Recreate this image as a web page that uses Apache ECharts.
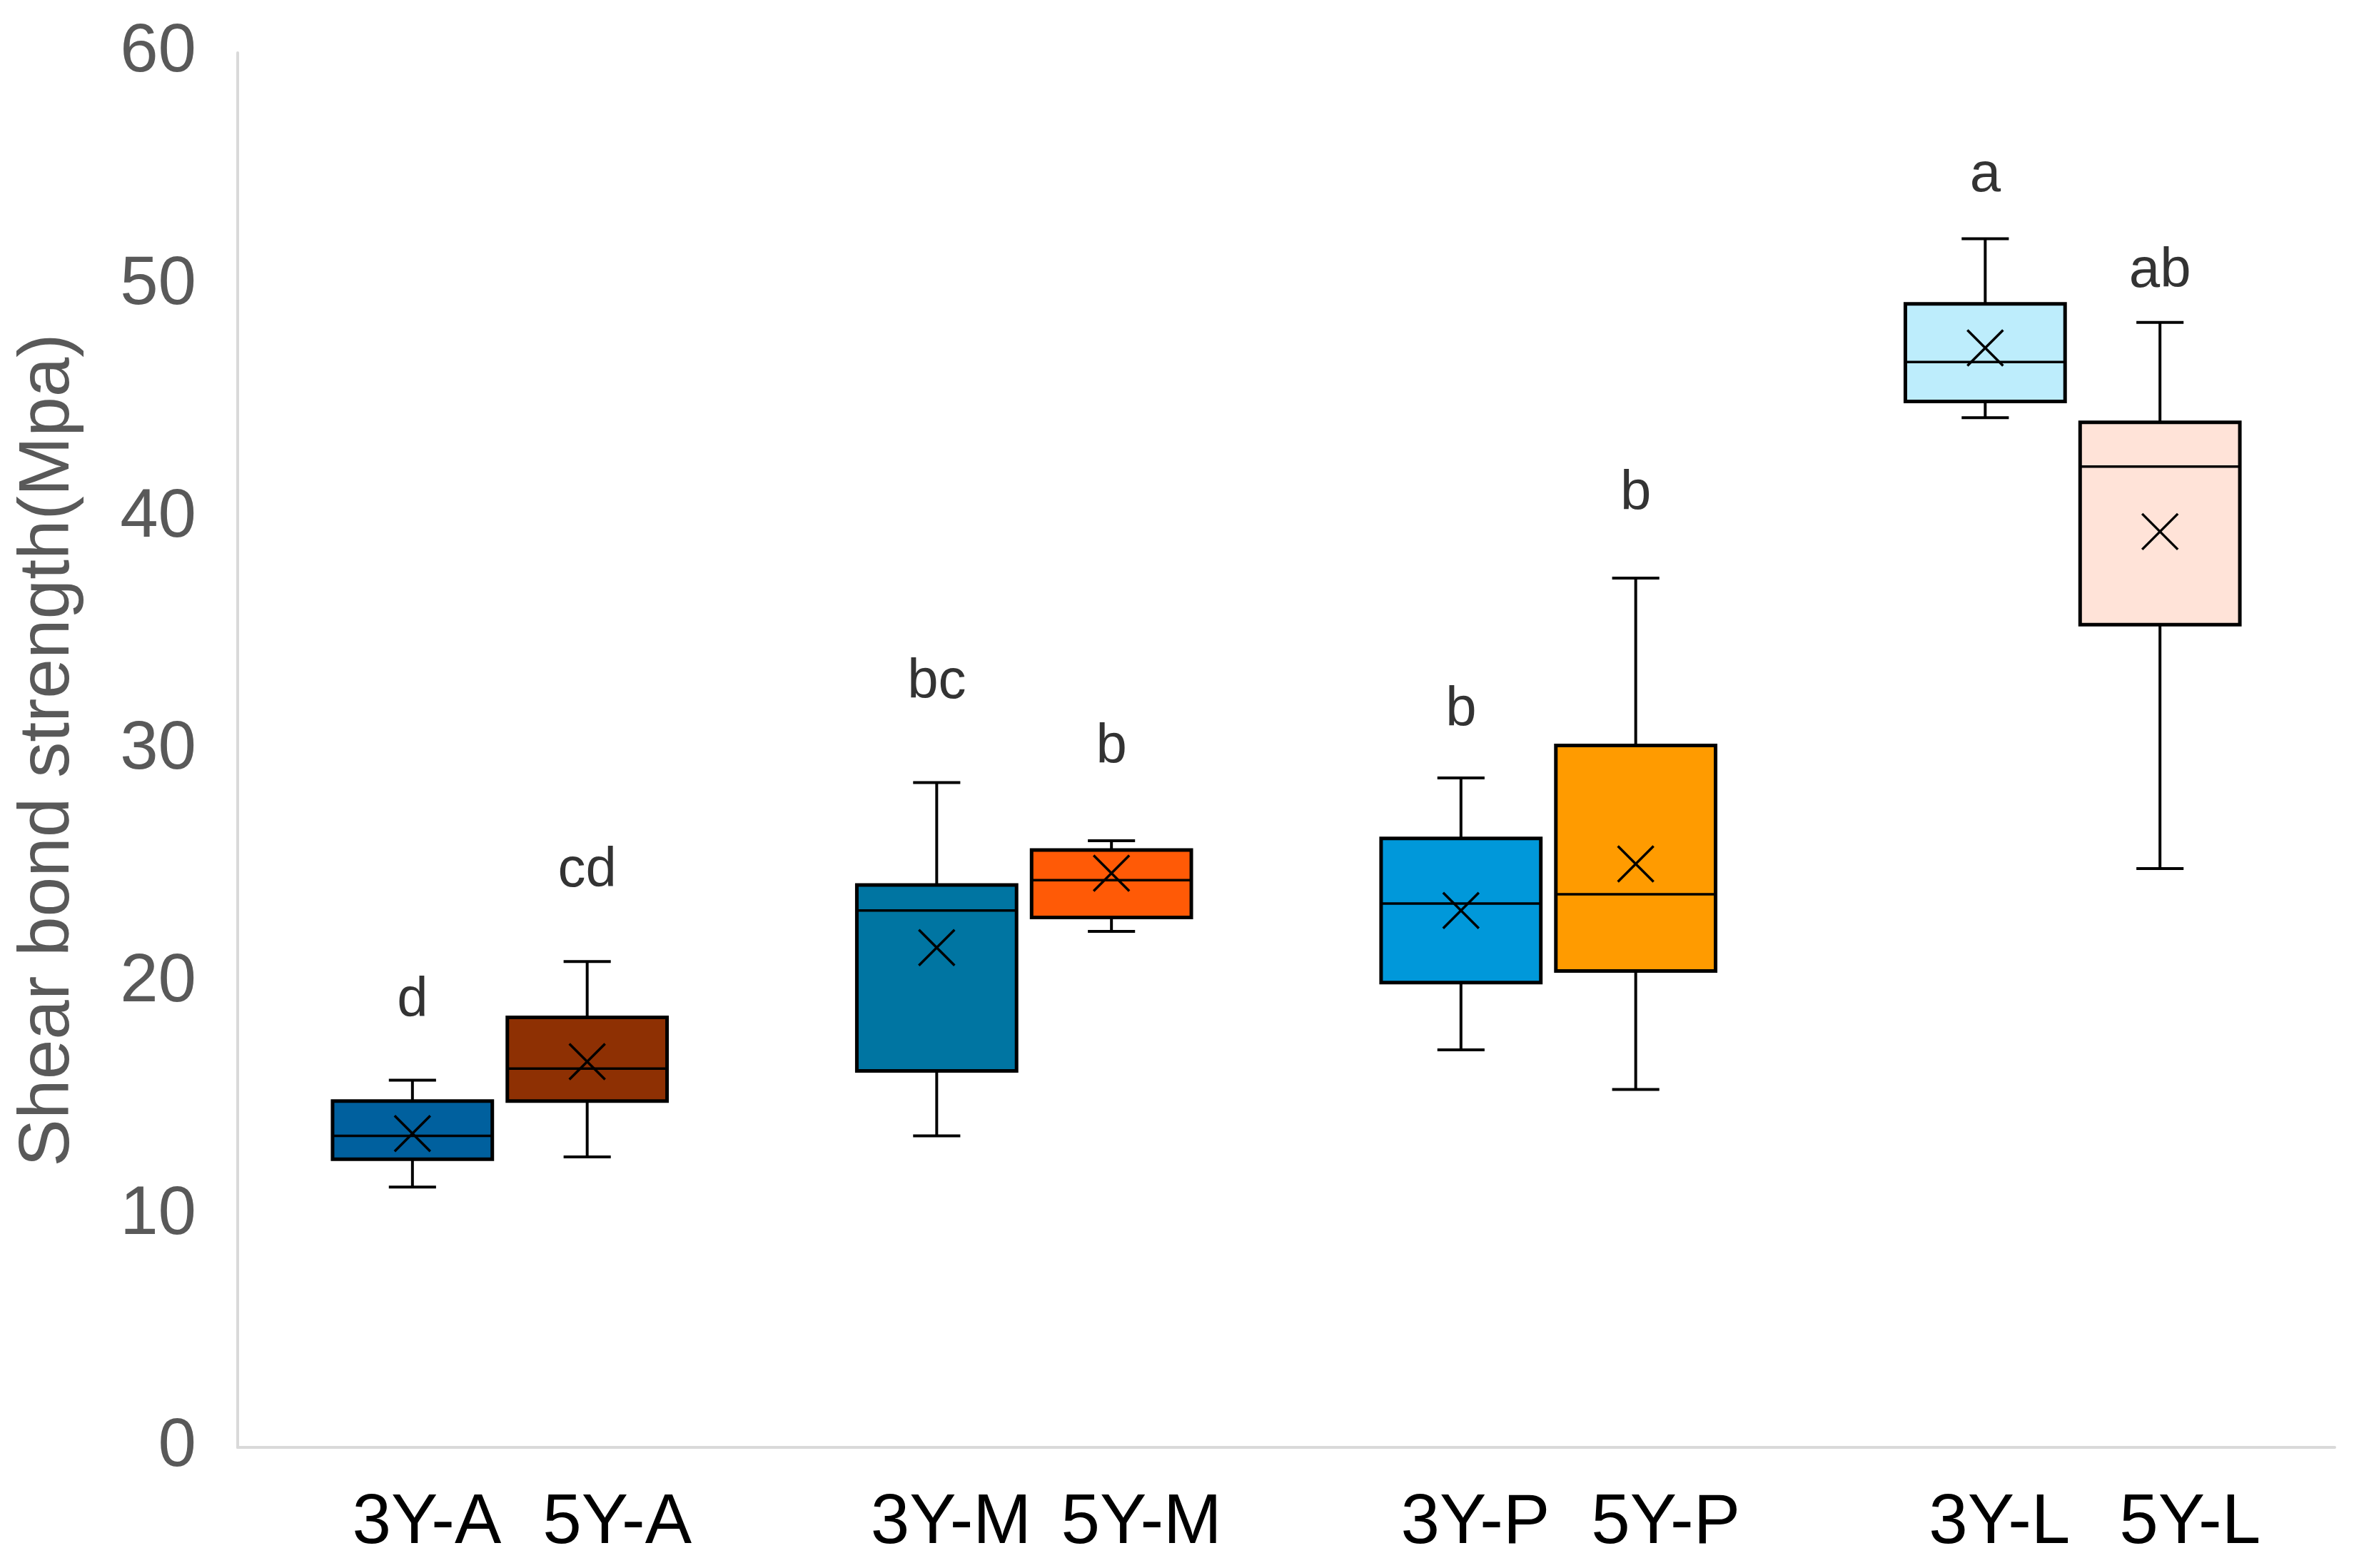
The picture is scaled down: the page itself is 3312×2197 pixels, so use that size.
<!DOCTYPE html>
<html>
<head>
<meta charset="utf-8">
<script src="https://cdn.jsdelivr.net/npm/echarts@6/dist/echarts.min.js"></script>
<style>
html, body { margin: 0; padding: 0; background: #fff; }
#chart { width: 3312px; height: 2197px; }
</style>
</head>
<body>
<div id="chart"></div>
<script>
// slots on the x axis, blanks are the gaps between groups
var slots = ['', '3Y-A', '5Y-A', '', '3Y-M', '5Y-M', '', '3Y-P', '5Y-P', '', '3Y-L', '5Y-L', ''];
var boxSlot = [1, 2, 4, 5, 7, 8, 10, 11];
var boxNames = ['3Y-A', '5Y-A', '3Y-M', '5Y-M', '3Y-P', '5Y-P', '3Y-L', '5Y-L'];
var whiskerLow = [11.2, 12.5, 13.4, 22.2, 17.1, 15.4, 44.3, 24.9];
var q1 = [12.4, 14.9, 16.2, 22.8, 20.0, 20.5, 45.0, 35.4];
var median = [13.4, 16.3, 23.1, 24.4, 23.4, 23.8, 46.7, 42.2];
var q3 = [14.9, 18.5, 24.2, 25.7, 26.2, 30.2, 49.2, 44.1];
var whiskerHigh = [15.8, 20.9, 28.6, 26.1, 28.8, 37.4, 52.0, 48.4];
var means = [13.5, 16.6, 21.5, 24.7, 23.1, 25.1, 47.3, 39.4];
var letters = ['d', 'cd', 'bc', 'b', 'b', 'b', 'a', 'ab'];
var letterAt = [19.2, 24.8, 32.9, 30.1, 31.7, 41.0, 54.7, 50.6];
var boxColors = ['#00609E', '#8E3003', '#0075A2', '#FF5A06', '#0098DA', '#FF9B00', '#BDEDFC', '#FFE3D8'];
var yTicks = [0, 10, 20, 30, 40, 50, 60];

var FONT = 'Liberation Sans, Arial, sans-serif';

var boxData = [];
var letterData = [];
for (var i = 0; i < boxNames.length; i++) {
	boxData.push([boxSlot[i], whiskerLow[i], q1[i], median[i], q3[i], whiskerHigh[i], means[i], i]);
	letterData.push({ value: [boxSlot[i], letterAt[i]], name: letters[i] });
}

function renderBox(params, api) {
	var x = api.value(0);
	var lo = api.coord([x, api.value(1)]);
	var b1 = api.coord([x, api.value(2)]);
	var md = api.coord([x, api.value(3)]);
	var b3 = api.coord([x, api.value(4)]);
	var hi = api.coord([x, api.value(5)]);
	var mn = api.coord([x, api.value(6)]);
	var step = api.size([1, 0])[0];
	var cx = lo[0];
	var half = step * 0.457;
	var cap = step * 0.135;
	var xs = 25;
	var line = { stroke: '#000', lineWidth: 4 };
	return {
		type: 'group',
		children: [
			{ type: 'line', shape: { x1: cx, y1: hi[1], x2: cx, y2: b3[1] }, style: line },
			{ type: 'line', shape: { x1: cx, y1: b1[1], x2: cx, y2: lo[1] }, style: line },
			{ type: 'line', shape: { x1: cx - cap, y1: hi[1], x2: cx + cap, y2: hi[1] }, style: line },
			{ type: 'line', shape: { x1: cx - cap, y1: lo[1], x2: cx + cap, y2: lo[1] }, style: line },
			{ type: 'rect', shape: { x: cx - half, y: b3[1], width: half * 2, height: b1[1] - b3[1] },
				style: { fill: boxColors[api.value(7)], stroke: '#000', lineWidth: 5 } },
			{ type: 'line', shape: { x1: cx - half, y1: md[1], x2: cx + half, y2: md[1] }, style: { stroke: '#000', lineWidth: 3.5 } },
			{ type: 'line', shape: { x1: cx - xs, y1: mn[1] - xs, x2: cx + xs, y2: mn[1] + xs }, style: { stroke: '#000', lineWidth: 3.5 } },
			{ type: 'line', shape: { x1: cx - xs, y1: mn[1] + xs, x2: cx + xs, y2: mn[1] - xs }, style: { stroke: '#000', lineWidth: 3.5 } }
		]
	};
}

var chart = echarts.init(document.getElementById('chart'));
chart.setOption({
	backgroundColor: '#fff',
	animation: false,
	grid: {
		left: 333,
		right: 41,
		top: 74,
		bottom: 169
	},
	xAxis: {
		type: 'category',
		data: slots,
		boundaryGap: false,
		axisLine: { lineStyle: { color: '#D9D9D9', width: 4 } },
		axisTick: { show: false },
		splitLine: { show: false },
		axisLabel: {
			interval: 0,
			margin: 58,
			color: '#000',
			fontFamily: FONT,
			fontSize: 98,
			formatter: function (v) {
				if (!v) return '';
				return v.indexOf('3Y') === 0 ? '{a|' + v + '}' : '{b|' + v + '}';
			},
			rich: {
				a: { fontFamily: FONT, fontSize: 98, color: '#000', padding: [0, 0, 0, 40] },
				b: { fontFamily: FONT, fontSize: 98, color: '#000', padding: [0, 0, 0, 84] }
			}
		}
	},
	yAxis: {
		type: 'value',
		min: yTicks[0],
		max: yTicks[yTicks.length - 1],
		interval: 10,
		name: 'Shear bond strength(Mpa)',
		nameLocation: 'middle',
		nameGap: 215,
		nameTextStyle: { fontFamily: FONT, fontSize: 100, color: '#595959' },
		axisLine: { show: true, lineStyle: { color: '#D9D9D9', width: 4 } },
		axisTick: { show: false },
		splitLine: { show: false },
		axisLabel: { margin: 58, color: '#595959', fontFamily: FONT, fontSize: 96 }
	},
	series: [{
		name: 'box',
		type: 'custom',
		renderItem: renderBox,
		data: boxData,
		encode: { x: 0, y: [1, 2, 3, 4, 5, 6] },
		z: 2
	}, {
		name: 'letters',
		type: 'scatter',
		symbolSize: 0,
		data: letterData,
		label: {
			show: true,
			position: 'inside',
			formatter: '{b}',
			color: '#000',
			textBorderWidth: 0,
			fontFamily: FONT,
			fontSize: 78
		},
		z: 3
	}]
});
</script>
</body>
</html>
